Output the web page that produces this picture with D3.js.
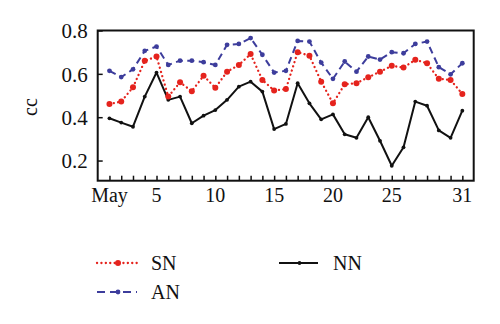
<!DOCTYPE html>
<html>
<head>
<meta charset="utf-8">
<script src="https://cdn.jsdelivr.net/npm/d3@7"></script>
<style>
  html, body { margin: 0; padding: 0; background: #fff; }
  svg { display: block; }
  text { font-family: "Liberation Serif", "DejaVu Serif", serif; }
</style>
</head>
<body>
<svg id="chart" width="500" height="324"></svg>
<script>
const days = d3.range(1, 32);
const xTickValues = [1, 5, 10, 15, 20, 25, 31];
const xTickLabels = ["May", "5", "10", "15", "20", "25", "31"];
const yTickValues = [0.2, 0.4, 0.6, 0.8];
const seriesNames = ["SN", "AN", "NN"];

const SN = [0.461, 0.472, 0.538, 0.660, 0.680, 0.495, 0.561, 0.520, 0.591, 0.536,
            0.610, 0.641, 0.691, 0.572, 0.523, 0.530, 0.700, 0.684, 0.564, 0.464,
            0.552, 0.557, 0.584, 0.610, 0.637, 0.629, 0.665, 0.649, 0.577, 0.572, 0.507];
const AN = [0.614, 0.585, 0.621, 0.706, 0.726, 0.641, 0.661, 0.661, 0.654, 0.641,
            0.734, 0.738, 0.765, 0.688, 0.606, 0.614, 0.752, 0.749, 0.652, 0.577,
            0.657, 0.610, 0.680, 0.666, 0.700, 0.695, 0.738, 0.749, 0.631, 0.598, 0.649];
const NN = [0.395, 0.375, 0.356, 0.495, 0.606, 0.480, 0.495, 0.372, 0.407, 0.433,
            0.480, 0.541, 0.564, 0.518, 0.345, 0.369, 0.557, 0.464, 0.390, 0.413,
            0.321, 0.305, 0.400, 0.291, 0.176, 0.261, 0.472, 0.453, 0.339, 0.305, 0.430];

const svg = d3.select("#chart");
const pL = 97.7, pR = 473.7, pT = 30.5, pB = 180.7;

const x = d3.scaleLinear().domain([0, 32]).range([pL, pR + 0.4]);
const y = d3.scaleLinear().domain([0.107, 0.8]).range([pB, pT]);

const RED = "#e5231d", BLUE = "#3d3d9c", BLACK = "#111";

const styles = {
  SN: { data: SN, color: RED, dash: "0.1,4.3", width: 2.3, cap: "round", r: 3.0 },
  AN: { data: AN, color: BLUE, dash: "7,4.5", width: 2.0, cap: "butt", r: 2.4 },
  NN: { data: NN, color: BLACK, dash: null, width: 2.0, cap: "butt", r: 1.9 }
};

const line = d3.line().x((d, i) => x(days[i])).y(d => y(d));

["NN", "SN", "AN"].forEach(name => {
  const s = styles[name];
  const g = svg.append("g");
  g.append("path")
    .attr("d", line(s.data))
    .attr("fill", "none")
    .attr("stroke", s.color)
    .attr("stroke-width", s.width)
    .attr("stroke-linecap", s.cap)
    .attr("stroke-linejoin", "round")
    .attr("stroke-dasharray", s.dash);
  g.selectAll("circle").data(s.data).join("circle")
    .attr("cx", (d, i) => x(days[i]))
    .attr("cy", d => y(d))
    .attr("r", s.r)
    .attr("fill", s.color);
});

svg.append("rect")
  .attr("x", pL).attr("y", pT)
  .attr("width", pR - pL).attr("height", pB - pT)
  .attr("fill", "none").attr("stroke", "#111").attr("stroke-width", 2);

const xAxis = d3.axisBottom(x).tickValues(days).tickSize(-5).tickFormat("");
const gx = svg.append("g").attr("transform", `translate(0,${pB})`).call(xAxis);
gx.select(".domain").remove();
gx.selectAll(".tick line").attr("stroke", "#111").attr("stroke-width", 1.5);

svg.append("g").selectAll("text").data(xTickValues).join("text")
  .attr("x", d => x(d))
  .attr("y", 202)
  .attr("text-anchor", "middle")
  .attr("font-size", 20)
  .attr("fill", "#111")
  .text((d, i) => xTickLabels[i]);

const yAxis = d3.axisLeft(y).tickValues(yTickValues).tickSize(-5).tickFormat(d3.format(".1f"));
const gy = svg.append("g").attr("transform", `translate(${pL},0)`).call(yAxis);
gy.select(".domain").remove();
gy.selectAll(".tick line").attr("stroke", "#111").attr("stroke-width", 1.5);
gy.selectAll(".tick text")
  .attr("x", -10)
  .attr("dy", "0.35em")
  .attr("font-size", 21)
  .attr("font-family", "Liberation Serif, DejaVu Serif, serif")
  .attr("fill", "#111");

svg.append("text")
  .attr("transform", "translate(37,107) rotate(-90)")
  .attr("text-anchor", "middle")
  .attr("font-size", 20)
  .attr("fill", "#111")
  .text("cc");

const legendPos = {
  SN: { x1: 97, x2: 137, y: 263, tx: 151 },
  AN: { x1: 97, x2: 137, y: 292, tx: 151 },
  NN: { x1: 279, x2: 318, y: 263, tx: 333 }
};
seriesNames.forEach(name => {
  const s = styles[name], p = legendPos[name];
  const g = svg.append("g");
  g.append("line")
    .attr("x1", p.x1).attr("x2", p.x2).attr("y1", p.y).attr("y2", p.y)
    .attr("stroke", s.color).attr("stroke-width", s.width)
    .attr("stroke-linecap", s.cap)
    .attr("stroke-dasharray", name === "AN" ? "8,5" : s.dash);
  g.append("circle").attr("cx", (p.x1 + p.x2) / 2 + 1).attr("cy", p.y)
    .attr("r", s.r).attr("fill", s.color);
  g.append("text")
    .attr("x", p.tx).attr("y", p.y + 6.5)
    .attr("font-size", 20)
    .attr("fill", "#111")
    .text(name);
});
</script>
</body>
</html>
